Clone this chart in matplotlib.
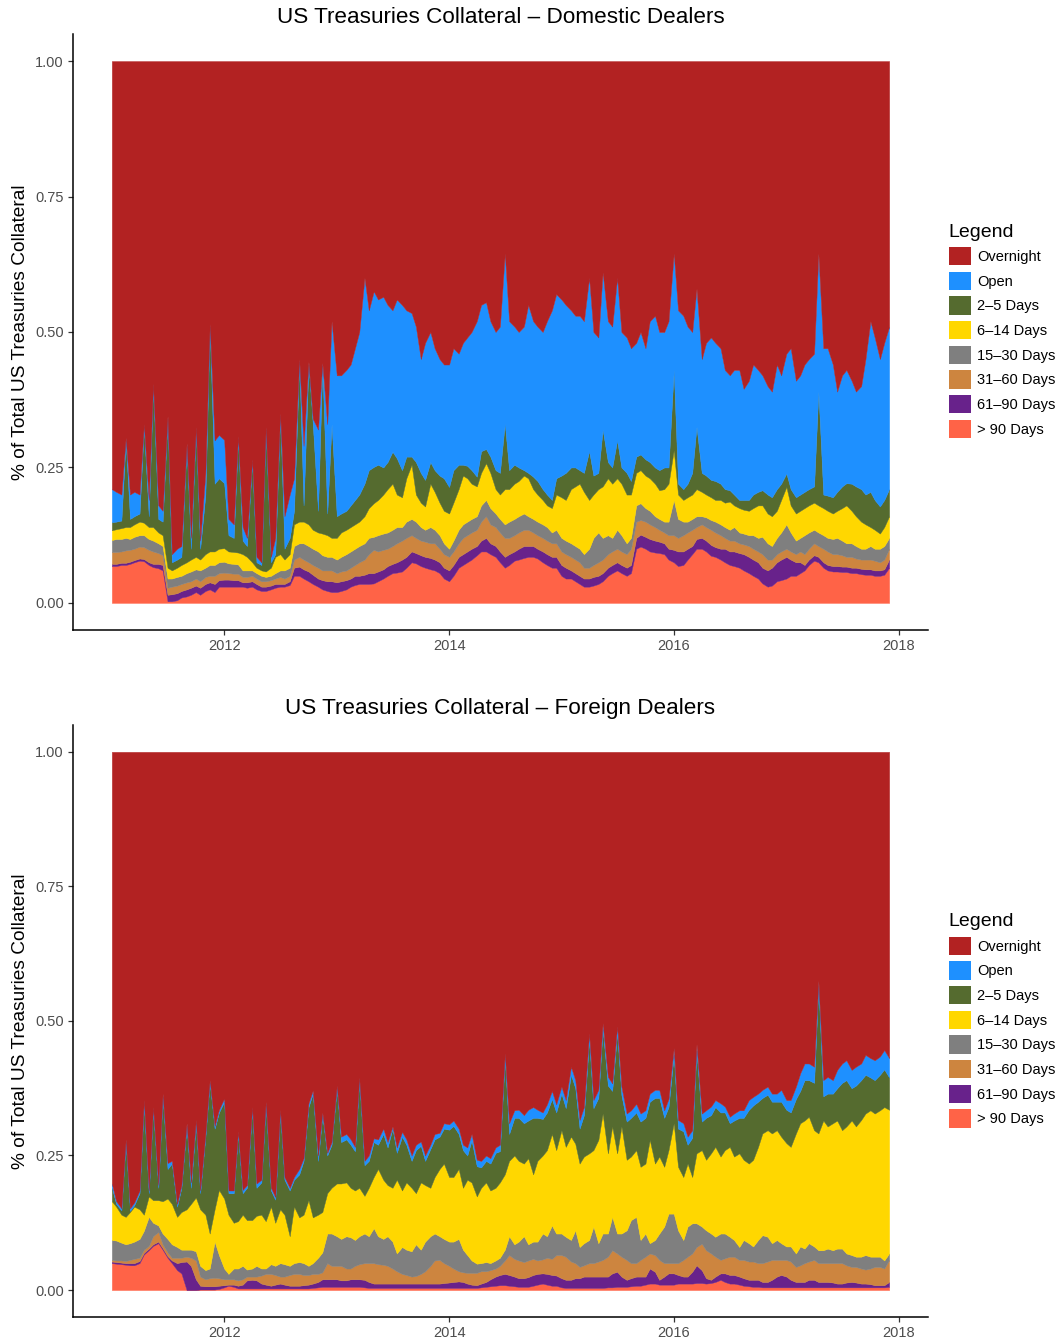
"""Tenor mix of US Treasuries repo collateral, domestic vs foreign dealers."""

from __future__ import annotations

import matplotlib

matplotlib.use("Agg")

import matplotlib.dates as mdates
import matplotlib.pyplot as plt
import numpy as np
import pandas as pd
from matplotlib.patches import Patch

plt.rcParams["font.family"] = ["Liberation Sans", "DejaVu Sans"]

# semi-monthly observations, Jan 2011 - Dec 2017
DATES = pd.date_range("2011-01-01", periods=167, freq="SMS")

TENORS = [
    "Overnight", "Open", "2–5 Days", "6–14 Days",
    "15–30 Days", "31–60 Days", "61–90 Days", "> 90 Days",
]
COLORS = [
    "#B22222", "#1E90FF", "#556B2F", "#FFD700",
    "#7F7F7F", "#CD853F", "#68228B", "#FF6347",
]

# Cumulative share of collateral at or beyond each tenor (longest first).
# dom_open is everything except overnight.
dom_over90 = [
    .068, .068, .07, .07, .072, .075, .078, .077, .07, .066, .064, .06,
    .003, .003, .005, .01, .012, .015, .02, .015, .022, .025, .02, .03,
    .03, .03, .03, .03, .03, .028, .03, .025, .022, .022, .025, .028,
    .03, .03, .033, .05, .05, .045, .04, .035, .03, .025, .022, .02,
    .02, .022, .025, .03, .033, .035, .035, .035, .036, .04, .045, .05,
    .055, .056, .058, .065, .075, .073, .068, .065, .062, .06, .055, .045,
    .04, .05, .065, .07, .075, .08, .088, .095, .095, .09, .085, .075,
    .065, .07, .078, .08, .083, .085, .085, .082, .075, .07, .065, .065,
    .05, .045, .045, .04, .035, .03, .03, .032, .035, .04, .05, .055,
    .06, .055, .05, .055, .10, .104, .10, .095, .093, .092, .09, .08,
    .075, .068, .07, .08, .09, .10, .10, .095, .087, .085, .08, .075,
    .07, .068, .065, .06, .055, .05, .045, .036, .03, .032, .04, .042,
    .045, .05, .05, .055, .06, .07, .078, .075, .065, .06, .058, .058,
    .057, .057, .055, .055, .053, .052, .052, .05, .05, .052, .065,
]
dom_over60 = [
    .072, .072, .074, .074, .076, .079, .082, .081, .075, .072, .072, .07,
    .015, .016, .018, .022, .025, .028, .032, .028, .035, .038, .035, .042,
    .043, .043, .042, .042, .038, .038, .04, .035, .03, .03, .032, .035,
    .035, .035, .04, .065, .067, .062, .058, .052, .045, .042, .04, .04,
    .038, .04, .042, .045, .05, .05, .052, .055, .055, .058, .062, .068,
    .072, .075, .08, .085, .095, .092, .088, .085, .083, .08, .075, .065,
    .06, .07, .085, .09, .095, .10, .105, .115, .12, .11, .105, .095,
    .085, .09, .095, .10, .105, .105, .105, .10, .095, .09, .085, .085,
    .07, .065, .06, .055, .05, .045, .045, .048, .05, .055, .065, .07,
    .075, .07, .065, .07, .12, .126, .122, .118, .115, .113, .11, .10,
    .098, .095, .095, .10, .105, .118, .12, .115, .107, .103, .10, .10,
    .095, .095, .092, .09, .085, .08, .075, .065, .06, .065, .075, .08,
    .085, .08, .075, .075, .07, .08, .088, .085, .075, .07, .068, .068,
    .067, .067, .065, .065, .063, .062, .062, .06, .06, .062, .08,
]
dom_over30 = [
    .094, .094, .095, .097, .098, .10, .104, .103, .098, .095, .092, .088,
    .028, .03, .032, .035, .038, .04, .045, .04, .048, .05, .05, .055,
    .056, .055, .054, .054, .048, .048, .05, .045, .04, .04, .042, .045,
    .048, .045, .05, .08, .085, .08, .075, .07, .065, .06, .06, .06,
    .055, .058, .06, .065, .07, .075, .08, .09, .098, .095, .098, .10,
    .105, .11, .115, .12, .125, .12, .115, .113, .11, .11, .10, .09,
    .085, .095, .11, .12, .125, .13, .135, .15, .16, .145, .14, .13,
    .12, .12, .125, .13, .135, .135, .13, .125, .12, .115, .11, .11,
    .095, .09, .085, .08, .075, .065, .065, .07, .075, .08, .09, .095,
    .10, .095, .09, .10, .15, .153, .15, .145, .14, .135, .13, .125,
    .125, .12, .125, .13, .135, .14, .145, .14, .135, .13, .125, .12,
    .115, .115, .11, .108, .105, .10, .095, .09, .08, .08, .09, .095,
    .10, .095, .09, .095, .09, .10, .11, .105, .10, .095, .09, .09,
    .088, .085, .085, .082, .08, .08, .08, .078, .075, .08, .10,
]
dom_over14 = [
    .116, .118, .118, .12, .118, .122, .125, .125, .118, .115, .11, .105,
    .045, .045, .048, .05, .055, .058, .062, .06, .065, .07, .07, .075,
    .076, .073, .072, .071, .06, .06, .06, .055, .05, .048, .05, .055,
    .06, .06, .065, .105, .11, .11, .105, .10, .095, .088, .085, .085,
    .08, .085, .09, .095, .10, .105, .11, .12, .122, .125, .128, .13,
    .135, .14, .14, .15, .155, .15, .14, .135, .14, .135, .125, .11,
    .10, .115, .135, .145, .15, .155, .16, .18, .19, .175, .165, .155,
    .145, .15, .155, .16, .165, .16, .155, .15, .145, .14, .13, .135,
    .12, .115, .11, .105, .10, .09, .10, .12, .13, .12, .125, .12,
    .135, .125, .11, .12, .18, .184, .175, .17, .16, .155, .15, .15,
    .19, .155, .15, .15, .155, .16, .16, .158, .153, .15, .145, .14,
    .135, .14, .13, .128, .125, .125, .12, .122, .11, .105, .12, .13,
    .145, .13, .115, .12, .125, .13, .135, .13, .125, .12, .118, .12,
    .115, .11, .11, .105, .10, .10, .105, .10, .10, .105, .12,
]
dom_over5 = [
    .134, .136, .138, .14, .14, .145, .15, .148, .14, .14, .13, .125,
    .065, .06, .065, .07, .075, .08, .085, .08, .09, .095, .095, .10,
    .101, .095, .094, .093, .09, .085, .075, .065, .06, .058, .065, .085,
    .09, .08, .09, .145, .15, .15, .145, .135, .13, .128, .125, .12,
    .12, .13, .135, .14, .145, .15, .16, .175, .184, .19, .20, .21,
    .22, .20, .195, .23, .255, .20, .185, .178, .22, .205, .185, .17,
    .165, .185, .21, .235, .23, .22, .215, .24, .258, .24, .21, .20,
    .21, .21, .22, .225, .235, .23, .21, .20, .19, .18, .175, .20,
    .195, .19, .21, .215, .22, .205, .19, .20, .21, .215, .23, .22,
    .23, .22, .20, .20, .24, .245, .235, .23, .22, .208, .21, .22,
    .282, .20, .19, .195, .20, .21, .205, .20, .195, .19, .19, .185,
    .187, .18, .175, .172, .17, .175, .18, .18, .165, .16, .17, .19,
    .214, .18, .165, .17, .175, .18, .185, .18, .175, .17, .165, .17,
    .175, .18, .17, .16, .15, .145, .14, .135, .128, .14, .16,
]
dom_over1 = [
    .149, .15, .152, .30, .155, .16, .165, .325, .16, .40, .155, .15,
    .34, .075, .08, .085, .29, .10, .32, .10, .20, .51, .22, .23,
    .221, .125, .12, .303, .115, .105, .26, .075, .07, .32, .075, .09,
    .345, .10, .12, .17, .445, .18, .44, .33, .17, .438, .165, .33,
    .16, .165, .17, .18, .19, .20, .22, .245, .251, .255, .25, .26,
    .279, .267, .245, .27, .27, .26, .24, .227, .26, .245, .235, .23,
    .214, .245, .255, .255, .253, .245, .233, .28, .284, .27, .245, .24,
    .331, .245, .255, .25, .245, .24, .233, .225, .21, .20, .19, .23,
    .235, .24, .25, .25, .245, .24, .28, .235, .24, .32, .26, .25,
    .30, .25, .24, .225, .27, .274, .265, .26, .25, .245, .25, .25,
    .43, .22, .21, .22, .24, .325, .24, .235, .227, .225, .22, .21,
    .208, .20, .19, .19, .19, .20, .205, .208, .20, .195, .21, .22,
    .239, .21, .195, .20, .205, .21, .215, .39, .20, .198, .195, .205,
    .215, .221, .22, .215, .21, .20, .205, .19, .178, .19, .21,
]
dom_open = [
    .21, .205, .20, .305, .20, .205, .20, .33, .19, .405, .18, .17,
    .345, .09, .10, .105, .295, .12, .325, .115, .24, .515, .30, .31,
    .301, .155, .145, .308, .14, .12, .265, .085, .075, .325, .085, .12,
    .35, .16, .20, .23, .45, .29, .445, .34, .32, .443, .33, .52,
    .42, .42, .43, .44, .47, .50, .60, .54, .575, .56, .565, .55,
    .54, .56, .55, .54, .535, .51, .45, .48, .50, .47, .45, .44,
    .44, .47, .46, .48, .49, .50, .52, .55, .555, .52, .50, .51,
    .645, .52, .51, .50, .51, .55, .52, .51, .50, .52, .54, .57,
    .56, .55, .54, .53, .53, .52, .60, .50, .49, .61, .52, .51,
    .60, .50, .49, .47, .48, .50, .47, .52, .53, .50, .50, .52,
    .645, .54, .53, .51, .50, .58, .45, .48, .49, .48, .47, .43,
    .42, .43, .43, .395, .41, .44, .43, .42, .40, .39, .44, .42,
    .46, .47, .41, .42, .44, .45, .46, .645, .47, .47, .44, .39,
    .42, .43, .41, .39, .40, .45, .52, .49, .45, .48, .51,
]

for_over90 = [
    .05, .049, .048, .047, .046, .046, .05, .066, .074, .082, .087, .075,
    .06, .05, .037, .031, 0, 0, 0, .001, .001, .001, .001, .002,
    .005, .008, .006, .003, .003, .003, .003, .003, .003, .003, .003, .003,
    .003, .003, .003, .003, .003, .003, .003, .004, .005, .006, .006, .006,
    .006, .006, .006, .006, .006, .006, .005, .004, .004, .004, .004, .004,
    .004, .004, .004, .004, .004, .004, .004, .004, .004, .004, .004, .004,
    .004, .004, .004, .004, .004, .004, .004, .005, .006, .007, .008, .009,
    .009, .008, .007, .006, .006, .006, .008, .01, .012, .01, .008, .008,
    .005, .004, .004, .004, .004, .004, .004, .004, .004, .004, .005, .005,
    .006, .006, .006, .007, .008, .008, .01, .012, .012, .01, .01, .01,
    .01, .012, .012, .012, .012, .013, .013, .012, .013, .015, .019, .015,
    .012, .012, .01, .008, .007, .006, .006, .005, .005, .005, .005, .005,
    .005, .005, .005, .005, .005, .005, .005, .005, .005, .005, .005, .005,
    .005, .005, .005, .005, .005, .005, .005, .005, .005, .005, .006,
]
for_over60 = [
    .053, .052, .051, .05, .05, .05, .054, .069, .077, .085, .09, .078,
    .063, .055, .05, .052, .053, .045, .02, .008, .007, .007, .007, .008,
    .009, .01, .01, .008, .01, .018, .019, .018, .012, .01, .008, .01,
    .012, .01, .008, .008, .008, .009, .01, .012, .015, .02, .02, .02,
    .02, .018, .018, .02, .02, .02, .019, .015, .012, .012, .012, .012,
    .012, .012, .012, .012, .012, .012, .012, .012, .012, .012, .012, .013,
    .014, .015, .016, .015, .012, .01, .009, .012, .015, .02, .025, .028,
    .03, .028, .025, .022, .022, .024, .028, .03, .031, .03, .028, .027,
    .022, .019, .019, .022, .022, .025, .025, .025, .025, .025, .025, .031,
    .034, .025, .019, .022, .025, .025, .025, .04, .034, .019, .025, .031,
    .031, .028, .025, .025, .034, .046, .037, .022, .019, .025, .031, .031,
    .028, .028, .025, .022, .019, .019, .019, .015, .015, .019, .025, .028,
    .025, .019, .015, .015, .015, .019, .019, .015, .015, .015, .014, .012,
    .012, .014, .015, .014, .012, .012, .011, .009, .009, .009, .015,
]
for_over30 = [
    .056, .055, .055, .054, .056, .058, .06, .075, .082, .10, .108, .085,
    .07, .06, .06, .06, .062, .06, .055, .025, .02, .022, .023, .022,
    .02, .02, .02, .018, .02, .025, .025, .025, .027, .03, .03, .028,
    .025, .025, .028, .03, .03, .028, .028, .03, .03, .033, .05, .045,
    .045, .045, .04, .04, .045, .048, .05, .05, .05, .048, .047, .045,
    .04, .035, .03, .028, .025, .026, .03, .035, .045, .055, .056, .05,
    .045, .04, .035, .033, .032, .032, .032, .035, .035, .037, .04, .045,
    .055, .065, .058, .055, .052, .055, .058, .055, .057, .06, .058, .065,
    .065, .062, .053, .05, .043, .046, .05, .05, .053, .056, .062, .074,
    .068, .062, .056, .05, .05, .056, .062, .068, .065, .056, .05, .05,
    .05, .05, .056, .062, .068, .08, .086, .074, .068, .062, .056, .059,
    .062, .062, .056, .056, .053, .053, .05, .05, .053, .056, .056, .056,
    .056, .053, .043, .046, .05, .053, .056, .05, .05, .05, .05, .05,
    .05, .046, .043, .043, .04, .038, .04, .043, .043, .04, .056,
]
for_over14 = [
    .093, .092, .088, .085, .087, .09, .095, .11, .136, .125, .12, .105,
    .095, .085, .08, .075, .075, .075, .072, .045, .037, .04, .09, .065,
    .04, .03, .04, .04, .045, .038, .04, .045, .04, .04, .048, .045,
    .05, .048, .045, .05, .052, .05, .045, .05, .06, .07, .105, .105,
    .10, .095, .10, .098, .093, .10, .105, .10, .115, .10, .095, .10,
    .09, .068, .08, .075, .072, .085, .075, .09, .10, .105, .10, .095,
    .09, .09, .095, .075, .065, .055, .049, .05, .052, .05, .055, .06,
    .075, .10, .085, .09, .10, .085, .09, .09, .105, .10, .12, .105,
    .105, .099, .093, .111, .08, .087, .093, .118, .087, .105, .105, .136,
    .105, .105, .111, .13, .136, .093, .105, .087, .093, .105, .118, .142,
    .142, .111, .093, .118, .124, .124, .118, .111, .105, .099, .105, .105,
    .099, .093, .08, .093, .087, .081, .093, .102, .099, .087, .093, .087,
    .081, .081, .068, .081, .077, .087, .081, .074, .074, .077, .074, .077,
    .077, .068, .065, .062, .062, .065, .062, .062, .062, .055, .068,
]
for_over5 = [
    .165, .155, .14, .136, .145, .155, .15, .14, .174, .167, .167, .165,
    .17, .16, .136, .145, .15, .16, .172, .15, .14, .105, .15, .186,
    .17, .14, .125, .128, .14, .13, .13, .138, .14, .128, .155, .125,
    .15, .14, .10, .155, .135, .14, .167, .135, .14, .145, .18, .19,
    .198, .198, .20, .19, .185, .19, .175, .19, .21, .225, .205, .195,
    .19, .205, .185, .20, .19, .18, .20, .195, .19, .21, .225, .235,
    .21, .21, .225, .19, .205, .20, .174, .19, .20, .185, .19, .20,
    .215, .24, .25, .24, .235, .245, .215, .24, .25, .26, .29, .26,
    .297, .266, .285, .272, .235, .248, .254, .26, .279, .328, .254, .304,
    .254, .304, .242, .248, .26, .229, .235, .279, .235, .248, .229, .26,
    .31, .229, .21, .235, .21, .254, .26, .242, .254, .266, .248, .26,
    .266, .248, .254, .242, .235, .242, .266, .291, .297, .291, .297, .285,
    .273, .266, .291, .31, .315, .322, .297, .291, .315, .304, .31, .315,
    .297, .304, .315, .304, .316, .328, .334, .328, .334, .34, .335,
]
for_over1 = [
    .19, .16, .148, .275, .147, .158, .18, .345, .18, .335, .19, .36,
    .225, .235, .155, .19, .305, .19, .31, .18, .285, .385, .30, .33,
    .35, .18, .18, .29, .18, .19, .335, .19, .20, .345, .185, .168,
    .33, .205, .185, .205, .215, .24, .34, .365, .24, .325, .25, .27,
    .375, .275, .28, .27, .258, .39, .232, .24, .275, .27, .29, .265,
    .30, .255, .285, .27, .24, .26, .268, .24, .262, .28, .285, .30,
    .298, .305, .29, .26, .25, .278, .23, .228, .24, .235, .255, .258,
    .43, .29, .32, .32, .31, .315, .32, .32, .318, .33, .355, .33,
    .365, .338, .40, .375, .30, .325, .465, .338, .357, .485, .38, .37,
    .478, .362, .313, .32, .33, .313, .32, .35, .357, .357, .32, .34,
    .437, .30, .295, .27, .283, .445, .313, .32, .325, .34, .33, .33,
    .31, .315, .32, .32, .335, .343, .35, .357, .363, .35, .35, .35,
    .335, .33, .355, .37, .39, .39, .385, .565, .36, .365, .365, .375,
    .385, .39, .375, .38, .39, .40, .395, .39, .40, .41, .395,
]
for_open = [
    .198, .165, .152, .28, .152, .163, .185, .353, .185, .34, .195, .365,
    .236, .24, .16, .195, .31, .20, .316, .185, .29, .39, .305, .335,
    .356, .185, .185, .295, .186, .195, .34, .198, .205, .35, .19, .173,
    .335, .21, .19, .21, .225, .245, .347, .371, .25, .33, .255, .275,
    .38, .285, .29, .28, .266, .395, .24, .25, .282, .28, .30, .275,
    .304, .265, .294, .28, .25, .27, .276, .25, .27, .29, .292, .31,
    .308, .315, .30, .27, .265, .29, .242, .24, .25, .245, .265, .27,
    .44, .31, .334, .335, .325, .335, .34, .335, .33, .345, .37, .345,
    .378, .353, .415, .39, .316, .34, .477, .353, .372, .496, .396, .384,
    .49, .378, .328, .334, .346, .328, .334, .365, .372, .372, .334, .355,
    .45, .316, .31, .285, .297, .457, .328, .334, .341, .353, .347, .341,
    .322, .328, .334, .334, .353, .359, .365, .372, .378, .365, .365, .372,
    .353, .353, .378, .403, .421, .421, .415, .575, .39, .396, .39, .409,
    .421, .427, .409, .415, .421, .437, .431, .427, .434, .446, .431,
]

DOMESTIC = [dom_over90, dom_over60, dom_over30, dom_over14, dom_over5, dom_over1, dom_open]
FOREIGN = [for_over90, for_over60, for_over30, for_over14, for_over5, for_over1, for_open]


def tenor_shares(cumulative: list[list[float]]) -> np.ndarray:
    """
    Turn cumulative levels (longest tenor first) into per-bucket shares,
    stacked bottom-up: > 90 Days ... Open, Overnight.
    """
    n = len(cumulative[0])
    levels = np.vstack([np.zeros(n)] + [np.asarray(c) for c in cumulative] + [np.ones(n)])
    return np.clip(np.diff(levels, axis=0), 0, None)


def draw_panel(ax: plt.Axes, cumulative: list[list[float]], title: str) -> None:
    shares = tenor_shares(cumulative)
    ax.stackplot(DATES, *shares, colors=COLORS[::-1], linewidth=0.3, edgecolor="face")

    lo, hi = mdates.date2num(DATES[0]), mdates.date2num(DATES[-1])
    pad = 0.05 * (hi - lo)
    ax.set_xlim(lo - pad, hi + pad)
    ax.set_ylim(-0.05, 1.05)

    ax.xaxis.set_major_locator(mdates.YearLocator(2))
    ax.xaxis.set_major_formatter(mdates.DateFormatter("%Y"))
    ax.set_yticks([0, 0.25, 0.5, 0.75, 1.0])
    ax.set_yticklabels(["0.00", "0.25", "0.50", "0.75", "1.00"])

    for side in ("top", "right"):
        ax.spines[side].set_visible(False)
    for side in ("left", "bottom"):
        ax.spines[side].set_linewidth(1.1)
        ax.spines[side].set_color("black")
    ax.tick_params(length=3.5, width=0.9, color="#333333", labelcolor="#4D4D4D", labelsize=10.5, pad=3)

    ax.set_title(title, fontsize=16.2, pad=8)
    ax.set_ylabel("% of Total US Treasuries Collateral", fontsize=13.8)
    ax.yaxis.set_label_coords(-0.052, 0.5)

    handles = [Patch(facecolor=c, edgecolor="none") for c in COLORS]
    ax.legend(
        handles, TENORS,
        loc="upper left", bbox_to_anchor=(1.024, 0.682),
        frameon=False, title="Legend", title_fontsize=14, fontsize=10.5,
        handlelength=1.55, handleheight=1.55, labelspacing=0.44,
        handletextpad=0.4, borderpad=0, borderaxespad=0, alignment="left",
    )


fig = plt.figure(figsize=(10.56, 13.43), dpi=100)
ax_dom = fig.add_axes([0.0691, 0.5309, 0.8097, 0.4438])
ax_for = fig.add_axes([0.0691, 0.0194, 0.8097, 0.4408])

draw_panel(ax_dom, DOMESTIC, "US Treasuries Collateral – Domestic Dealers")
draw_panel(ax_for, FOREIGN, "US Treasuries Collateral – Foreign Dealers")

fig.savefig("out.png", dpi=100)
